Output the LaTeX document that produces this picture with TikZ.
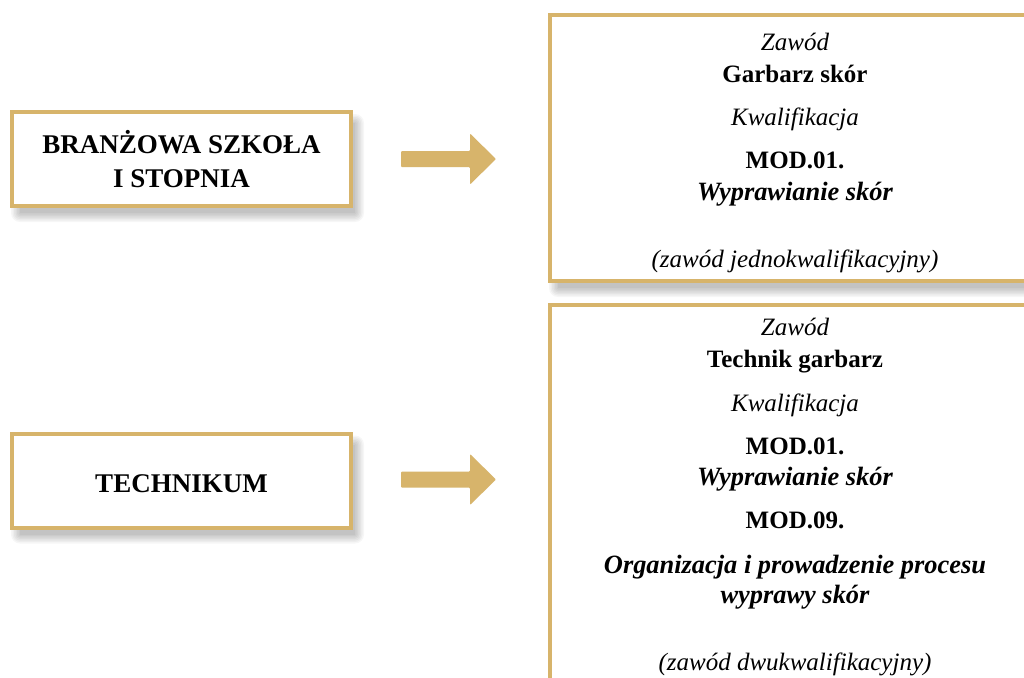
\documentclass[tikz,border=0pt]{standalone}
\usepackage{fontspec}
\setmainfont{Liberation Serif}
\definecolor{gold}{HTML}{D7B46B}
\begin{document}
\begin{tikzpicture}[x=0.5pt,y=-0.5pt,
  box/.style={draw=gold, line width=2pt, fill=white, inner sep=0pt},
  txt/.style={anchor=base, inner sep=0pt, font=\fontsize{12.5}{15}\selectfont},
  it/.style={txt, font=\fontsize{12.5}{15}\selectfont\itshape},
  bf/.style={txt, font=\fontsize{12.5}{15}\selectfont\bfseries},
  lbf/.style={txt, font=\fontsize{13.5}{16}\selectfont\bfseries},
  bi/.style={txt, font=\fontsize{13.2}{15}\selectfont\bfseries\itshape},
  shadowlayer/.style={fill=black, opacity=0.035},
  blockarrow/.pic={\fill[gold, rounded corners=0.5pt] (0,-8) -- (69,-8) -- (69,-25.5) -- (95,0) -- (69,25.5) -- (69,8) -- (0,8) -- cycle;}]
\useasboundingbox[fill=white] (0,0) rectangle (1024,677);

% shadows (drawn as soft layered rectangles)
\foreach \cx/\cy/\w/\h in {181.5/159/343/98, 181.5/480.5/343/98, 790/148/484/270, 790/502.5/484/399}{
  \foreach \r in {0,1.5,...,9}{
    \fill[shadowlayer, rounded corners=\r*0.5pt]
      (\cx-\w/2+6-\r+4, \cy-\h/2+9-\r+4) rectangle (\cx+\w/2+6+\r-4, \cy+\h/2+9+\r-4);
  }
}

% left boxes
\node[box, minimum width=169.5pt, minimum height=47pt] (bs) at (181.5,159) {};
\node[box, minimum width=169.5pt, minimum height=47pt] (tk) at (181.5,480.5) {};
% right boxes
\node[box, minimum width=240pt, minimum height=133pt] (zb) at (790,148) {};
\node[box, minimum width=240pt, minimum height=197.5pt] (zt) at (790,502.5) {};

% arrows
\coordinate (a1) at (401,159);
\coordinate (a2) at (401,479.5);
\pic at (a1) {blockarrow};
\pic at (a2) {blockarrow};

% left texts
\node[lbf] (t1) at (181.5,153) {BRANŻOWA SZKOŁA};
\node[lbf] (t2) at (181.5,187) {I STOPNIA};
\node[lbf] (t3) at (181.5,492) {TECHNIKUM};

% right upper texts
\node[it] (b1) at (795,50) {Zawód};
\node[bf] (b2) at (795,82) {Garbarz skór};
\node[it] (b3) at (795,125) {Kwalifikacja};
\node[bf] (b4) at (795,168) {MOD.01.};
\node[bi] (b5) at (795,200) {Wyprawianie skór};
\node[it] (b6) at (795,267) {(zawód jednokwalifikacyjny)};

% right lower texts
\node[it] (d1) at (795,335) {Zawód};
\node[bf] (d2) at (795,367) {Technik garbarz};
\node[it] (d3) at (795,411) {Kwalifikacja};
\node[bf] (d4) at (795,454) {MOD.01.};
\node[bi] (d5) at (795,485) {Wyprawianie skór};
\node[bf] (d6) at (795,528) {MOD.09.};
\node[bi] (d7) at (795,573) {Organizacja i prowadzenie procesu};
\node[bi] (d8) at (795,603) {wyprawy skór};
\node[it] (d9) at (795,670) {(zawód dwukwalifikacyjny)};
\end{tikzpicture}
\end{document}
